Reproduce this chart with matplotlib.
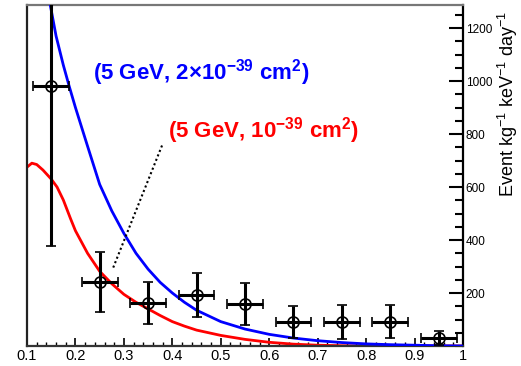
import matplotlib
matplotlib.use("Agg")
import matplotlib.pyplot as plt
from matplotlib.ticker import MultipleLocator, FixedLocator

plt.rcParams['font.family'] = ['Liberation Sans', 'DejaVu Sans']
plt.rcParams['mathtext.default'] = 'regular'

# measured points (recoil energy bins)
x_data = [0.15, 0.25, 0.35, 0.45, 0.55, 0.65, 0.75, 0.85, 0.95]
y_data = [981, 242, 162, 192, 158, 91, 91, 91, 30]
y_err = [604, 113, 80, 83, 80, 59, 63, 62, 27]
x_err = 0.037

# expected spectrum, 5 GeV, 2e-39 cm2
blue_x = [0.148, 0.16, 0.175, 0.187, 0.20, 0.224, 0.25, 0.275, 0.30, 0.325,
          0.35, 0.375, 0.40, 0.425, 0.45, 0.50, 0.55, 0.60, 0.65, 0.70,
          0.75, 0.80, 0.85, 0.90, 0.95, 1.0]
blue_y = [1287, 1170, 1060, 981, 900, 760, 610, 510, 425, 350,
          290, 240, 200, 165, 135, 92, 64, 44, 30, 20,
          13, 8, 5, 3, 1, 0]

# expected spectrum, 5 GeV, 1e-39 cm2
red_x = [0.10, 0.11, 0.12, 0.133, 0.15, 0.162, 0.175, 0.19, 0.20, 0.225,
         0.25, 0.275, 0.30, 0.325, 0.35, 0.375, 0.40, 0.425, 0.45, 0.50,
         0.55, 0.60, 0.65, 0.70, 0.75, 0.80, 1.0]
red_y = [675, 690, 685, 664, 630, 600, 551, 480, 435, 350,
         282, 235, 195, 165, 140, 115, 92, 75, 60, 40,
         25, 14, 7, 3, 1, 0, 0]

xticks = [0.1, 0.2, 0.3, 0.4, 0.5, 0.6, 0.7, 0.8, 0.9, 1.0]
xlabels = ['0.1', '0.2', '0.3', '0.4', '0.5', '0.6', '0.7', '0.8', '0.9', '1']
yticks = [200, 400, 600, 800, 1000, 1200]

fig = plt.figure(figsize=(5.21, 3.66), dpi=100)
ax = fig.add_axes([27 / 521, 1 - 346 / 366, (463 - 27) / 521, (346 - 5) / 366])

ax.plot(red_x, red_y, color='#ff0000', lw=2.0, zorder=2)
ax.plot(blue_x, blue_y, color='#0000ff', lw=2.0, zorder=3)

ax.errorbar(x_data, y_data, yerr=y_err, xerr=x_err, fmt='o', ms=8,
            mfc='none', mec='black', mew=1.2, ecolor='black', elinewidth=2.2,
            capsize=3.5, capthick=2, color='black', zorder=4)

ax.plot([0.278, 0.379], [296, 758], color='black', ls=(0, (1, 1.3)), lw=1.5, zorder=3)

ax.text(0.236, 1032, r'(5 GeV, 2$\times$10$^{-39}$ cm$^{2}$)', color='#0000ff',
        fontsize=16, fontweight='bold', va='center', ha='left')
ax.text(0.391, 812, r'(5 GeV, 10$^{-39}$ cm$^{2}$)', color='#ff0000',
        fontsize=16, fontweight='bold', va='center', ha='left')

ax.set_xlim(0.1, 1.0)
ax.set_ylim(0, 1287)

ax.xaxis.set_major_locator(FixedLocator(xticks))
ax.set_xticklabels(xlabels)
ax.xaxis.set_minor_locator(MultipleLocator(0.02))
ax.yaxis.tick_right()
ax.yaxis.set_major_locator(FixedLocator(yticks))
ax.yaxis.set_minor_locator(MultipleLocator(50))

ax.tick_params(axis='x', which='major', direction='in', length=6, width=1.2,
               labelsize=10.5, pad=2)
ax.tick_params(axis='x', which='minor', direction='in', length=3, width=1.0)
ax.tick_params(axis='y', which='major', direction='in', length=10, width=1.5,
               labelsize=8.5, pad=2, right=True, left=False)
ax.tick_params(axis='y', which='minor', direction='in', length=6, width=1.5,
               right=True, left=False)

for side, col in [('top', '#777777'), ('left', '#222222'),
                  ('bottom', '#333333'), ('right', 'black')]:
    ax.spines[side].set_color(col)
    ax.spines[side].set_linewidth(1.6)

fig.text(508 / 521, 1 - 104 / 366, r'Event kg$^{-1}$ keV$^{-1}$ day$^{-1}$',
         rotation=90, va='center', ha='center', fontsize=13)

fig.savefig('out.png', dpi=100)
